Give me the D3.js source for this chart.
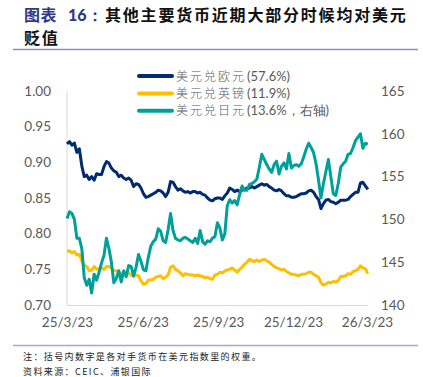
<!DOCTYPE html>
<html><head><meta charset="utf-8">
<script src="https://cdn.jsdelivr.net/npm/d3@7/dist/d3.min.js"></script>
<style>
html,body{margin:0;padding:0;background:#fff;}
svg{display:block;}
</style></head>
<body>
<svg id="chart" width="423" height="377"></svg>
<script>
// ---- data ----
const startDate = "2025-03-23";
const stepDays = 3;
const eurUsd = [0.926,0.929,0.924,0.927,0.914,0.919,0.895,0.880,0.882,0.876,0.880,0.875,0.884,0.883,0.883,0.894,0.901,0.899,0.892,0.888,
0.886,0.880,0.882,0.878,0.876,0.878,0.875,0.866,0.870,0.869,0.864,0.856,0.851,0.852,0.854,0.856,0.858,0.861,0.860,0.857,
0.852,0.858,0.873,0.872,0.866,0.861,0.863,0.860,0.858,0.859,0.857,0.859,0.859,0.857,0.858,0.855,0.854,0.850,0.847,0.846,
0.849,0.850,0.850,0.848,0.853,0.857,0.864,0.862,0.859,0.861,0.859,0.861,0.862,0.864,0.864,0.866,0.864,0.866,0.868,0.870,
0.868,0.869,0.866,0.864,0.861,0.860,0.862,0.860,0.856,0.853,0.853,0.851,0.851,0.852,0.854,0.856,0.856,0.857,0.860,0.861,
0.858,0.852,0.848,0.835,0.842,0.847,0.848,0.845,0.844,0.842,0.844,0.847,0.847,0.847,0.848,0.852,0.855,0.858,0.858,0.871,
0.872,0.867,0.862];
const gbpUsd = [0.775,0.776,0.773,0.775,0.770,0.771,0.762,0.756,0.754,0.748,0.749,0.754,0.750,0.751,0.752,0.750,0.754,0.754,0.752,0.748,
0.748,0.746,0.744,0.744,0.742,0.745,0.742,0.740,0.742,0.741,0.734,0.729,0.730,0.735,0.735,0.736,0.739,0.740,0.741,0.737,
0.739,0.742,0.753,0.755,0.750,0.748,0.745,0.741,0.744,0.743,0.742,0.742,0.741,0.742,0.741,0.740,0.738,0.739,0.737,0.736,
0.742,0.743,0.746,0.745,0.748,0.749,0.750,0.752,0.749,0.746,0.750,0.753,0.757,0.760,0.764,0.762,0.761,0.763,0.761,0.763,
0.764,0.762,0.760,0.757,0.754,0.752,0.751,0.749,0.750,0.747,0.745,0.743,0.743,0.742,0.741,0.743,0.743,0.744,0.746,0.746,
0.743,0.741,0.739,0.731,0.728,0.729,0.732,0.731,0.733,0.732,0.734,0.740,0.740,0.741,0.744,0.743,0.747,0.748,0.750,0.755,
0.752,0.751,0.744];
const jpyUsd = [150.1,150.9,150.7,150.0,147.8,147.8,146.6,143.2,142.3,143.0,141.4,143.6,142.9,143.8,144.9,145.8,147.8,146.6,145.0,142.6,
143.1,144.0,142.7,144.0,143.3,144.6,144.5,143.4,144.4,145.9,145.1,144.1,144.0,145.6,146.9,147.4,147.7,148.9,148.6,147.5,
147.3,148.8,150.7,148.7,147.8,147.6,147.5,147.8,147.9,147.7,147.5,147.3,147.8,147.2,148.7,147.4,147.1,147.5,147.4,147.8,
148.0,149.6,149.0,147.6,148.3,151.6,152.3,151.9,152.2,151.7,152.9,153.9,153.4,153.4,154.1,154.2,154.4,154.7,156.1,157.6,
157.0,156.4,155.9,155.5,156.4,156.8,155.3,156.2,156.6,155.9,157.7,156.0,156.3,156.4,156.2,156.5,157.3,158.2,158.9,158.4,
157.8,156.5,154.6,152.5,154.2,155.6,157.0,155.0,153.0,152.8,154.2,156.1,156.5,156.8,157.6,157.7,158.4,159.2,159.6,160.0,
158.3,158.9,158.8];
const seriesNames = ["美元兑欧元", "美元兑英镑", "美元兑日元"];
const seriesNotes = ["(57.6%)", "(11.9%)", "(13.6%，右轴)"];
const seriesColors = ["#002B6F", "#FFBF00", "#00A09A"];
const leftTicks = [0.70, 0.75, 0.80, 0.85, 0.90, 0.95, 1.00];
const rightTicks = [140, 145, 150, 155, 160, 165];
const xTickDates = ["2025-03-23", "2025-06-23", "2025-09-23", "2025-12-23", "2026-03-23"];
const xTickLabels = ["25/3/23", "25/6/23", "25/9/23", "25/12/23", "26/3/23"];
const titleLabel = "图表";
const titleNumber = "16：";
const titleLine1 = "其他主要货币近期大部分时候均对美元";
const titleLine2 = "贬值";
const noteText = "注：括号内数字是各对手货币在美元指数里的权重。";
const sourceText = "资料来源：CEIC、浦银国际";

// ---- build ----
const parse = d3.timeParse("%Y-%m-%d");
const start = parse(startDate);
const dates = eurUsd.map((_, i) => d3.timeDay.offset(start, i * stepDays));

const svg = d3.select("#chart");
const cjk = "'Noto Sans CJK SC', sans-serif";
const num = "Lato, 'Noto Sans', sans-serif";

const x = d3.scaleTime().domain([parse(xTickDates[0]), parse(xTickDates[4])]).range([67, 367]);
const yL = d3.scaleLinear().domain([0.70, 1.00]).range([305, 91]);
const yR = d3.scaleLinear().domain([140, 165]).range([305, 91]);

// title
const tStyle = s => s.style("font-family", cjk).style("font-weight", "700").style("font-size", "16px");
const t1 = svg.append("text").attr("y", 21).call(tStyle);
t1.append("tspan").attr("x", 24).attr("fill", "#2E3A86").attr("letter-spacing", "0.5px").text(titleLabel);
t1.append("tspan").attr("x", 68).attr("fill", "#2E3A86").style("font-family", num).style("font-weight", "900").text(titleNumber);
t1.append("tspan").attr("x", 105).attr("fill", "#111").attr("letter-spacing", "1.8px").text(titleLine1);
svg.append("text").attr("x", 24).attr("y", 44).attr("fill", "#111").attr("letter-spacing", "1.8px")
  .call(tStyle).text(titleLine2);
svg.append("line").attr("x1", 13).attr("x2", 418).attr("y1", 49.5).attr("y2", 49.5)
  .attr("stroke", "#8C8CC4").attr("stroke-width", 1.3);

// axes frame
svg.append("line").attr("x1", 67).attr("x2", 67).attr("y1", yL(1.0)).attr("y2", yL(0.70))
  .attr("stroke", "#D9D9D9").attr("stroke-width", 1);

const gx = svg.append("g").attr("transform", `translate(0,${yL(0.70)})`)
  .call(d3.axisBottom(x).tickValues(xTickDates.map(parse)).tickFormat((d, i) => xTickLabels[i]).tickSize(0).tickPadding(12));
gx.select(".domain").attr("stroke", "#D9D9D9").attr("d", `M67,0.5H368`);
gx.selectAll("text").attr("fill", "#595959").style("font-family", num).style("font-size", "13.5px");

const gl = svg.append("g").attr("transform", "translate(67,0)")
  .call(d3.axisLeft(yL).tickValues(leftTicks).tickFormat(d3.format(".2f")).tickSize(0).tickPadding(16));
gl.select(".domain").remove();
gl.selectAll("text").attr("fill", "#595959").style("font-family", num).style("font-size", "13.5px");

const gr = svg.append("g").attr("transform", "translate(368,0)")
  .call(d3.axisRight(yR).tickValues(rightTicks).tickFormat(d3.format("d")).tickSize(0).tickPadding(13));
gr.select(".domain").remove();
gr.selectAll("text").attr("fill", "#595959").style("font-family", num).style("font-size", "13.5px");

// lines
const lineL = d3.line().x((d, i) => x(dates[i])).y(d => yL(d));
const lineR = d3.line().x((d, i) => x(dates[i])).y(d => yR(d));
svg.append("path").datum(eurUsd).attr("d", lineL).attr("fill", "none")
  .attr("stroke", seriesColors[0]).attr("stroke-width", 3).attr("stroke-linejoin", "round");
svg.append("path").datum(gbpUsd).attr("d", lineL).attr("fill", "none")
  .attr("stroke", seriesColors[1]).attr("stroke-width", 3).attr("stroke-linejoin", "round");
svg.append("path").datum(jpyUsd).attr("d", lineR).attr("fill", "none")
  .attr("stroke", seriesColors[2]).attr("stroke-width", 3).attr("stroke-linejoin", "round");

// legend
const lg = svg.append("g");
seriesNames.forEach((name, i) => {
  const yy = 76 + i * 17.4;
  lg.append("line").attr("x1", 139).attr("x2", 172).attr("y1", yy).attr("y2", yy)
    .attr("stroke", seriesColors[i]).attr("stroke-width", 4).attr("stroke-linecap", "round");
  const t = lg.append("text").attr("x", 176).attr("y", yy + 4.5).attr("fill", "#595959");
  t.append("tspan").style("font-family", cjk).style("font-size", "12px").style("font-weight", "300")
    .attr("letter-spacing", "2px").text(name);
  t.append("tspan").style("font-family", num).style("font-size", "13px").attr("dx", 1).text(seriesNotes[i]);
});

// notes
svg.append("line").attr("x1", 13).attr("x2", 418).attr("y1", 345.5).attr("y2", 345.5)
  .attr("stroke", "#A6A6C8").attr("stroke-width", 1.3);
svg.append("text").attr("x", 23).attr("y", 360).attr("fill", "#222").attr("letter-spacing", "1.4px")
  .style("font-family", cjk).style("font-size", "9px").text(noteText);
svg.append("text").attr("x", 23).attr("y", 375).attr("fill", "#222").attr("letter-spacing", "1.4px")
  .style("font-family", cjk).style("font-size", "9px").text(sourceText);
</script>
</body></html>
